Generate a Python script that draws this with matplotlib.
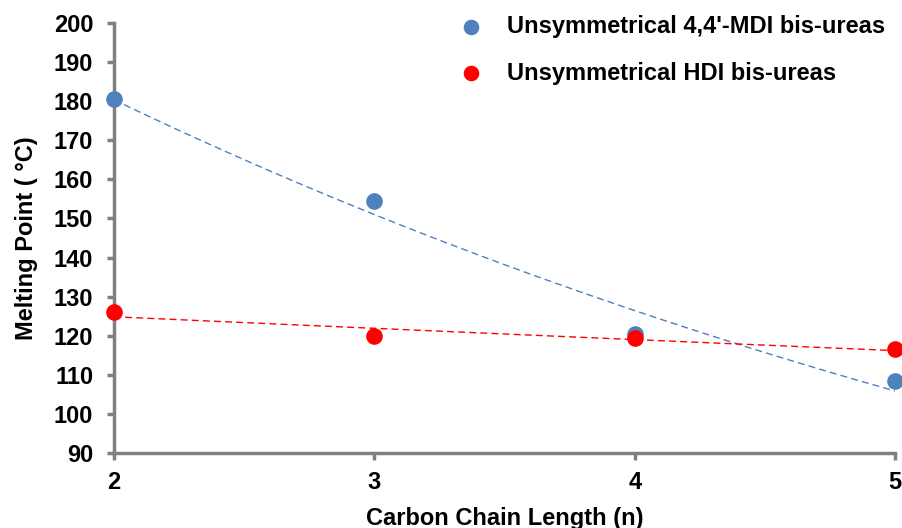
import numpy as np
import matplotlib
matplotlib.use("Agg")
import matplotlib.pyplot as plt

plt.rcParams['font.family'] = ['Liberation Sans', 'DejaVu Sans']
plt.rcParams['font.weight'] = 'bold'

chain = [2, 3, 4, 5]
mdi = [180.5, 154.5, 120.5, 108.5]
hdi = [126.0, 120.0, 119.5, 116.5]

blue = '#4f81bd'
red = '#ff0000'
grey = '#808080'

fig = plt.figure(figsize=(9.03, 5.28), dpi=100)
ax = fig.add_axes([0.1263, 0.142, 0.8649, 0.8144])

# exponential trend lines (Excel style)
xs = np.linspace(2, 5, 100)
for ys, c in [(mdi, blue), (hdi, red)]:
    b, a = np.polyfit(chain, np.log(ys), 1)
    ax.plot(xs, np.exp(a + b * xs), color=c, lw=1, ls=(0, (5, 3)), zorder=2)

ax.scatter(chain, mdi, s=120, color=blue, zorder=3, clip_on=False,
           label="Unsymmetrical 4,4'-MDI bis-ureas")
ax.scatter(chain, hdi, s=120, color=red, zorder=4, clip_on=False,
           label="Unsymmetrical HDI bis-ureas")

ax.set_xlim(2, 5)
ax.set_ylim(90, 200)
ax.set_xticks(chain)
ax.set_yticks(np.arange(90, 201, 10))

for s in ['top', 'right']:
    ax.spines[s].set_visible(False)
for s in ['left', 'bottom']:
    ax.spines[s].set_color(grey)
    ax.spines[s].set_linewidth(2.5)
ax.tick_params(colors=grey, width=2.5, length=5, labelsize=17, labelcolor='black')
ax.tick_params(axis='y', pad=10)
ax.tick_params(axis='x', pad=8)

ax.set_xlabel('Carbon Chain Length (n)', fontsize=17, fontweight='bold', labelpad=9)
ax.set_ylabel('Melting Point ( °C)', fontsize=17, fontweight='bold', labelpad=11)

leg = ax.legend(loc='upper left', bbox_to_anchor=(461.5 / 903, 1 - 15 / 528),
                bbox_transform=fig.transFigure, borderaxespad=0, borderpad=0,
                frameon=False, fontsize=17, handlelength=0.8, handletextpad=1.13,
                labelspacing=1.0, scatterpoints=1, markerscale=0.93)
for t in leg.get_texts():
    t.set_fontweight('bold')

fig.savefig('out.png', dpi=100)
